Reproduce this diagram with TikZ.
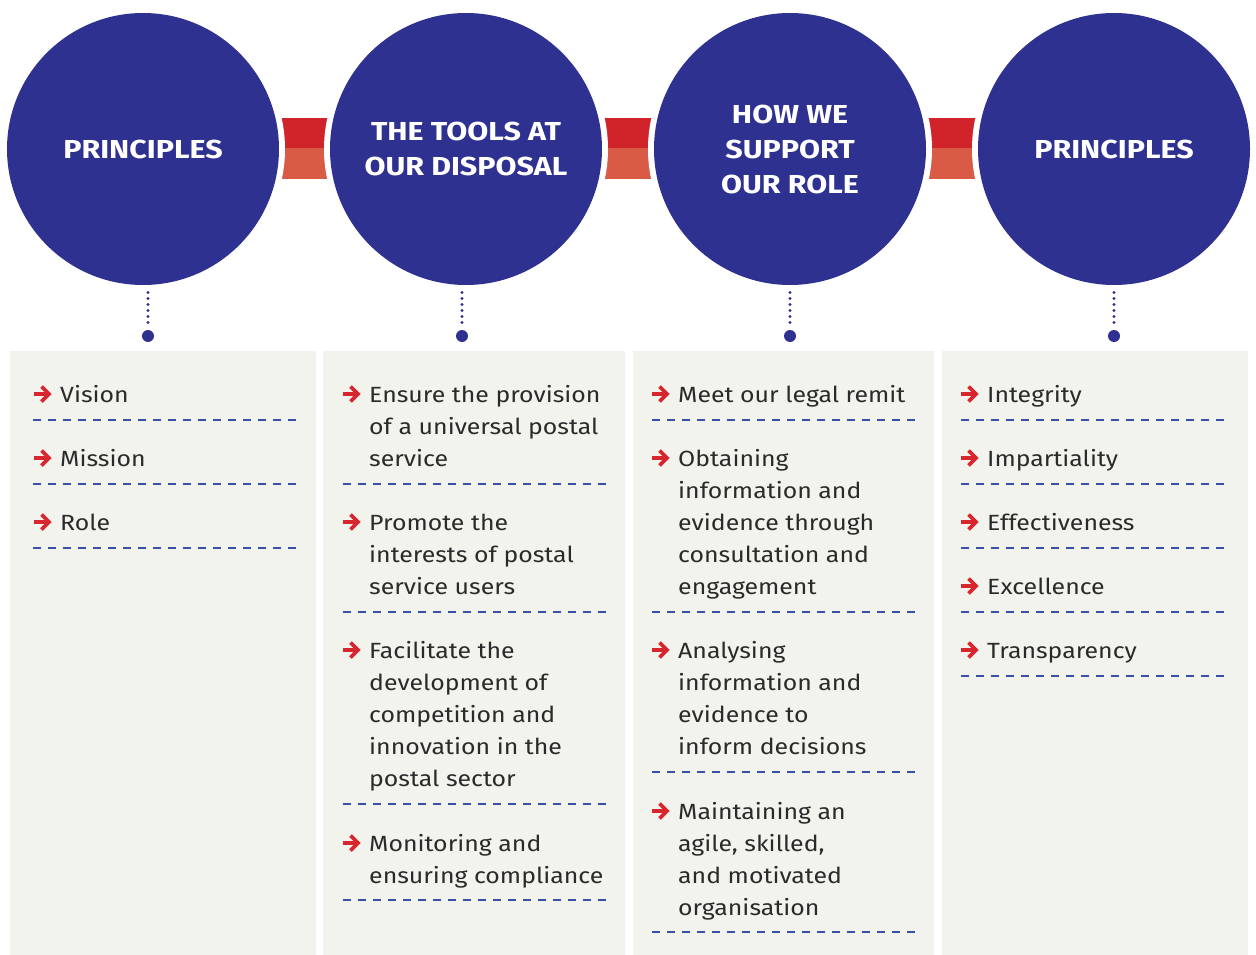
\documentclass[tikz,border=0pt]{standalone}
\usepackage{fontspec}
\setmainfont{Fira Sans}[FakeStretch=1.13]
\newfontfamily\headfont{Fira Sans}[UprightFont={* Bold}, FakeStretch=1.17]
\definecolor{navy}{HTML}{2E3190}
\definecolor{redtop}{HTML}{D0232A}
\definecolor{redbot}{HTML}{D95B45}
\definecolor{panelbg}{HTML}{F3F3EE}
\definecolor{dashblue}{HTML}{3A4FA8}
\definecolor{arrowred}{HTML}{D7262E}
\definecolor{bodytext}{HTML}{2A2A2A}
\tikzset{
  bigcircle/.style={circle, fill=navy, minimum size=272pt, inner sep=0pt, text=white,
    font=\headfont\fontsize{26}{35}\selectfont, align=center},
  ring/.style={circle, fill=white, minimum size=284pt, inner sep=0pt},
  panel/.style={fill=panelbg, draw=none},
  dashline/.style={dashblue, line width=2pt, dash pattern=on 8pt off 7pt},
  dotline/.style={navy, line width=3.2pt, line cap=round, dash pattern=on 0pt off 6pt},
  enddot/.style={circle, fill=navy, minimum size=12pt, inner sep=0pt},
  itemtext/.style={anchor=north west, inner sep=0pt, align=left, text=bodytext,
    font=\fontsize{22}{32}\selectfont},
  redarrow/.style={arrowred, line width=3.6pt},
}
\newcommand\itm[4]{%
  \draw[redarrow] (#2,#3) -- (#2+14,#3);
  \draw[redarrow, miter limit=10] (#2+7.5,#3-7.5) -- (#2+15,#3) -- (#2+7.5,#3+7.5);
  \node[itemtext] (#1) at (#2+26,#3-14.4) {\strut #4};
}
\begin{document}
\begin{tikzpicture}[x=1pt,y=-1pt]
\useasboundingbox (0,0) rectangle (1256,955);
% panels
\fill[panel] (10,351) rectangle (315.5,955);
\fill[panel] (323,351) rectangle (625,955);
\fill[panel] (633,351) rectangle (934,955);
\fill[panel] (942,351) rectangle (1248,955);
% connector bands
\foreach \xa/\xb in {270/340, 594/664, 918/988}{
  \fill[redtop] (\xa,118) rectangle (\xb,148.3);
  \fill[redbot] (\xa,148.3) rectangle (\xb,179);
}
% white rings
\foreach \cx in {143,466,790,1114}{
  \node[ring] at (\cx,149) {};
}
% circles
\node[bigcircle] (c1) at (143,149) {PRINCIPLES};
\node[bigcircle] (c2) at (466,149) {THE TOOLS AT\\OUR DISPOSAL};
\node[bigcircle] (c3) at (790,149) {HOW WE\\SUPPORT\\OUR ROLE};
\node[bigcircle] (c4) at (1114,149) {PRINCIPLES};
% dotted drops
\foreach \i/\dx in {1/148, 2/462, 3/790, 4/1114}{
  \coordinate (s\i) at (\dx,292.5);
  \node[enddot] (d\i) at (\dx,336) {};
  \draw[dotline] (s\i) -- (\dx,324);
}
% panel 1
\itm{p1a}{34}{394}{Vision}
\draw[dashline] (33,420) -- (298,420);
\itm{p1b}{34}{458}{Mission}
\draw[dashline] (33,484) -- (298,484);
\itm{p1c}{34}{522}{Role}
\draw[dashline] (33,548) -- (298,548);
% panel 2
\itm{p2a}{343}{394}{Ensure the provision\\of a universal postal\\service}
\draw[dashline] (343,484) -- (607,484);
\itm{p2b}{343}{522}{Promote the\\interests of postal\\service users}
\draw[dashline] (343,612) -- (607,612);
\itm{p2c}{343}{650}{Facilitate the\\development of\\competition and\\innovation in the\\postal sector}
\draw[dashline] (343,804) -- (607,804);
\itm{p2d}{343}{843}{Monitoring and\\ensuring compliance}
\draw[dashline] (343,900) -- (607,900);
% panel 3
\itm{p3a}{652}{394}{Meet our legal remit}
\draw[dashline] (652,420) -- (916,420);
\itm{p3b}{652}{458}{Obtaining\\information and\\evidence through\\consultation and\\engagement}
\draw[dashline] (652,612) -- (916,612);
\itm{p3c}{652}{650}{Analysing\\information and\\evidence to\\inform decisions}
\draw[dashline] (652,772) -- (916,772);
\itm{p3d}{652}{811}{Maintaining an\\agile, skilled,\\and motivated\\organisation}
\draw[dashline] (652,932) -- (916,932);
% panel 4
\itm{p4a}{961}{394}{Integrity}
\draw[dashline] (961,420) -- (1225,420);
\itm{p4b}{961}{458}{Impartiality}
\draw[dashline] (961,484) -- (1225,484);
\itm{p4c}{961}{522}{Effectiveness}
\draw[dashline] (961,548) -- (1225,548);
\itm{p4d}{961}{586}{Excellence}
\draw[dashline] (961,612) -- (1225,612);
\itm{p4e}{961}{650}{Transparency}
\draw[dashline] (961,676) -- (1225,676);
\end{tikzpicture}
\end{document}
